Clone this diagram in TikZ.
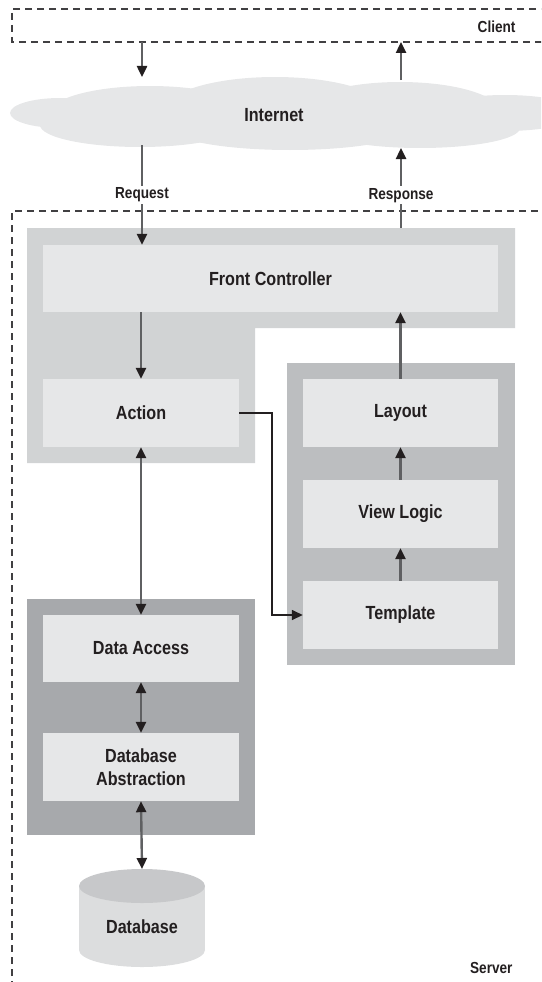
\documentclass[tikz,border=0pt]{standalone}
\usepackage{fontspec}
\setmainfont[FakeStretch=0.85]{Liberation Sans}
\usepackage{tikz}
\usetikzlibrary{calc,arrows.meta}
\definecolor{ink}{HTML}{231F20}
\definecolor{wire}{HTML}{5F6062}
\definecolor{dash}{HTML}{414042}
\definecolor{inner}{HTML}{E6E7E8}
\definecolor{outer}{HTML}{D1D3D4}
\definecolor{viewgrp}{HTML}{BCBEC0}
\definecolor{datagrp}{HTML}{A7A9AC}
\definecolor{dbtop}{HTML}{C7C8CA}
\definecolor{dbbody}{HTML}{DCDDDE}
\tikzset{
  zone/.style={draw=dash, line width=1.3pt, dash pattern=on 7pt off 5pt},
  arr/.style={draw=wire, line width=2.4pt, -{Triangle[length=11pt,width=10pt,color=ink]}},
  biarr/.style={draw=wire, line width=2.4pt, {Triangle[length=11pt,width=10pt,color=ink]}-{Triangle[length=11pt,width=10pt,color=ink]}},
  link/.style={draw=ink, line width=1.5pt, -{Triangle[length=11pt,width=10pt]}},
  box/.style={fill=inner, minimum width=196, minimum height=68, inner sep=0pt, align=center, text=ink, font=\bfseries\fontsize{19}{23}\selectfont},
  lbl/.style={text=ink, font=\bfseries\fontsize{16}{17}\selectfont},
  tag/.style={lbl, fill=white, inner sep=2pt}
}
\begin{document}
\begin{tikzpicture}[x=1pt,y=-1pt]
  \useasboundingbox (0,0) rectangle (541,982);
  \clip (0,0) rectangle (541,982);

  % client and server zones
  \draw[zone] (560,9) -- (12,9) -- (12,42) -- (560,42);
  \draw[zone] (12,1000) -- (12,211) -- (560,211);
  \node[lbl, anchor=east] (client) at (519,27) {Client};
  \node[lbl, anchor=east] (server) at (516,968) {Server};

  % internet cloud
  \fill[inner] (60,113) ellipse [x radius=50pt, y radius=15pt];
  \fill[inner] (150,113) ellipse [x radius=100pt, y radius=27pt];
  \fill[inner] (140,125) ellipse [x radius=100pt, y radius=22pt];
  \fill[inner] (275,110) ellipse [x radius=110pt, y radius=33pt];
  \fill[inner] (290,128) ellipse [x radius=120pt, y radius=22pt];
  \fill[inner] (400,112) ellipse [x radius=100pt, y radius=30pt];
  \fill[inner] (420,128) ellipse [x radius=100pt, y radius=20pt];
  \fill[inner] (505,113) ellipse [x radius=75pt, y radius=18pt];
  \node[text=ink, font=\bfseries\fontsize{19}{20}\selectfont] (inet) at (274,115) {Internet};

  % group backgrounds
  \fill[outer] (27,228) -- (515,228) -- (515,328) -- (255,328) -- (255,463) -- (27,463) -- cycle;
  \fill[viewgrp] (287,363) rectangle (515,665);
  \fill[datagrp] (27,599) rectangle (255,835);

  % boxes
  \node[box, minimum width=455, minimum height=67] (fc) at (270.5,278.5) {Front Controller};
  \node[box] (action) at (141,413) {Action};
  \node[box, minimum width=195] (layout) at (400.5,413) {Layout};
  \node[box, minimum width=195] (viewlogic) at (400.5,514) {View Logic};
  \node[box, minimum width=195] (template) at (400.5,615) {Template};
  \node[box, minimum height=67] (dataaccess) at (141,648.5) {Data Access};
  \node[box] (dbabs) at (141,767) {Database\\Abstraction};

  % database
  \fill[dbbody] (79,886) rectangle (205,950);
  \fill[dbbody] (142,950) ellipse [x radius=63pt, y radius=17pt];
  \fill[dbtop] (142,886) ellipse [x radius=63pt, y radius=17pt];
  \coordinate (dbcap) at (142,869);
  \node[text=ink, font=\bfseries\fontsize{19}{20}\selectfont] (db) at (142,927) {Database};

  % request / response
  \coordinate (reqA) at (142,42);
  \coordinate (reqB) at (142,77);
  \coordinate (reqC) at (142,145);
  \coordinate (resA) at (401,80);
  \coordinate (resB) at (401,42);
  \coordinate (resC) at (401,228);
  \coordinate (resD) at (401,148);
  \draw[arr] (reqA) -- (reqB);
  \draw[arr] (resA) -- (resB);
  \draw[arr] (reqC) -- (fc.north -| reqC) node[tag, pos=0.5] {Request};
  \draw[arr] (resC) -- (resD) node[tag, pos=0.41] {Response};

  % flow
  \draw[arr] (fc.south -| action) -- (action.north);
  \draw[arr] (layout.north) -- (fc.south -| layout);
  \draw[arr] (viewlogic.north) -- (layout.south);
  \draw[arr] (template.north) -- (viewlogic.south);
  \draw[link] (action.east) -- ++(33,0) |- (template.west);
  \draw[biarr] (action.south) -- (dataaccess.north);
  \draw[biarr] (dataaccess.south) -- (dbabs.north);
  \draw[biarr] (dbabs.south) -- (dbcap);
\end{tikzpicture}
\end{document}
